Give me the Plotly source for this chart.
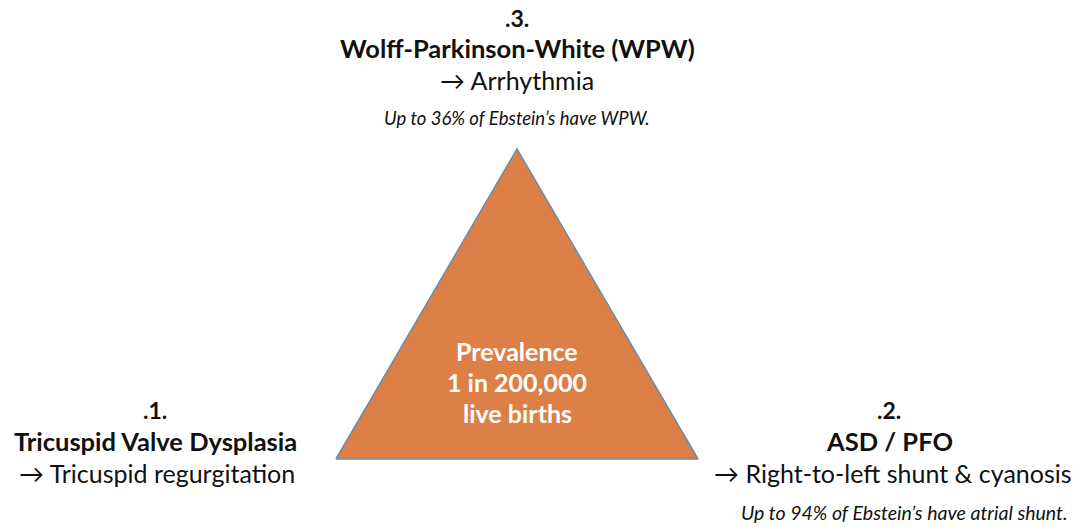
import plotly.graph_objects as go

# ---- data ----
tri_x = [0.0, 1.0, 0.5, 0.0]          # unit triangle (base-left, base-right, apex)
tri_y = [0.0, 0.0, 1.0, 0.0]
numbers = [".1.", ".2.", ".3."]
titles = ["Tricuspid Valve Dysplasia", "ASD / PFO", "Wolff-Parkinson-White (WPW)"]
effects = ["→ Tricuspid regurgitation", "→ Right-to-left shunt & cyanosis", "→ Arrhythmia"]
notes = ["", "Up to 94% of Ebstein’s have atrial shunt.", "Up to 36% of Ebstein’s have WPW."]
center_lines = ["Prevalence", "1 in 200,000", "live births"]

W, H = 1086, 527
# pixel placement of unit triangle
X0, XW = 336.0, 362.0
Y0, YH = 459.0, 310.0

def dx(px):
    return (px - X0) / XW

def dy(py):
    return (Y0 - py) / YH

FONT = "Lato, 'Open Sans', sans-serif"

fig = go.Figure()
fig.add_trace(go.Scatter(
    x=tri_x, y=tri_y, mode="lines", fill="toself",
    fillcolor="#DD8047", line=dict(color="#6A8CAB", width=1.5),
    hoverinfo="skip", showlegend=False))

ann = []
def t(text, xp, yp, size, bold=False, italic=False, color="#111111"):
    s = text
    if bold:
        s = "<b>" + s + "</b>"
    if italic:
        s = "<i>" + s + "</i>"
    ann.append(dict(x=dx(xp), y=dy(yp), xref="x", yref="y", text=s, showarrow=False,
                    xanchor="center", yanchor="middle",
                    font=dict(family=FONT, size=size, color=color)))

# vertex 1 (left)
t(numbers[0], 155, 410, 23, bold=True)
t(titles[0], 155, 441, 25.5, bold=True)
t(effects[0], 157, 473, 25)
# vertex 2 (right)
t(numbers[1], 889, 410, 23, bold=True)
t(titles[1], 889, 441, 25.5, bold=True)
t(effects[1], 893, 473, 25)
t(notes[1], 904, 512, 19.5, italic=True)
# vertex 3 (top)
t(numbers[2], 517, 18, 23, bold=True)
t(titles[2], 517, 48, 25.5, bold=True)
t(effects[2], 517, 80, 25)
t(notes[2], 517, 118, 18.5, italic=True)
# center
for i, line in enumerate(center_lines):
    t(line, 517, 351 + 31 * i, 25, bold=True, color="white")

fig.update_layout(
    width=W, height=H, margin=dict(l=0, r=0, t=0, b=0),
    paper_bgcolor="white", plot_bgcolor="white",
    xaxis=dict(range=[dx(0), dx(W)], visible=False, fixedrange=True),
    yaxis=dict(range=[dy(H), dy(0)], visible=False, fixedrange=True),
    annotations=ann, showlegend=False)

fig.write_html("out.html", config={"displayModeBar": False},
               post_script="document.body.style.margin='0';document.body.style.overflow='hidden';")
